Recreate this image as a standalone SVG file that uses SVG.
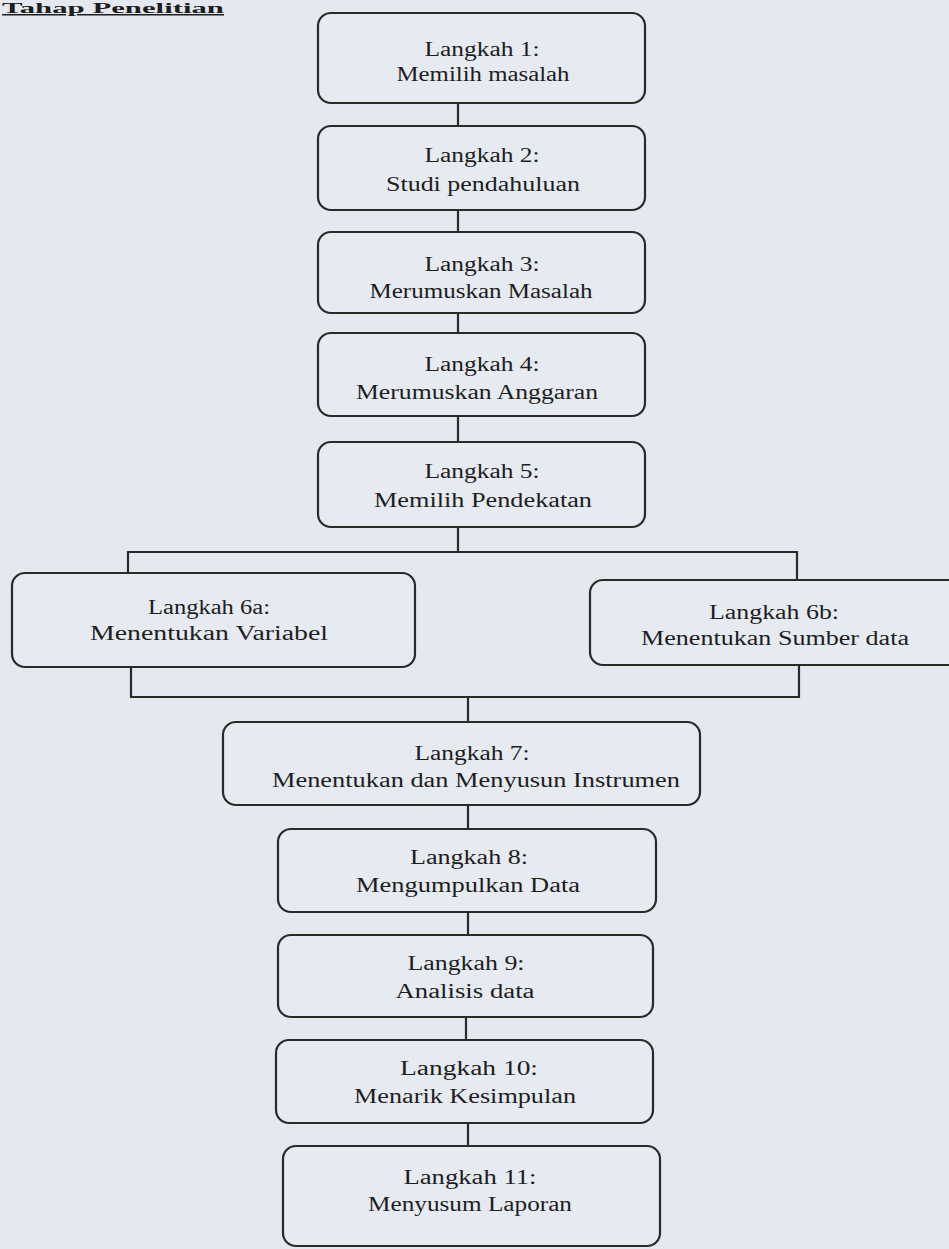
<svg xmlns="http://www.w3.org/2000/svg" width="949" height="1249" viewBox="0 0 949 1249">
<style>
.bg{fill:#e4e8ef}
.box{fill:#e6eaf1;stroke:#2a2a2a;stroke-width:2.2}
.ln{fill:none;stroke:#2a2a2a;stroke-width:2.2}
text{font-family:"Liberation Serif","Times New Roman",serif;font-size:20px;fill:#1e1e1e;text-anchor:middle}
.hd{font-size:15px;font-weight:bold;text-anchor:start;text-decoration:underline}
</style>
<rect class="bg" x="0" y="0" width="949" height="1249"/>
<text class="hd" x="2" y="13" textLength="222" lengthAdjust="spacingAndGlyphs">Tahap Penelitian</text>
<g id="connectors">
<line class="ln" x1="458" y1="103" x2="458" y2="126"/>
<line class="ln" x1="458" y1="210" x2="458" y2="232"/>
<line class="ln" x1="458" y1="313" x2="458" y2="333"/>
<line class="ln" x1="458" y1="416" x2="458" y2="442"/>
<line class="ln" x1="458" y1="527" x2="458" y2="552"/>
<polyline class="ln" points="128,573 128,552 797,552 797,580"/>
<polyline class="ln" points="131,667 131,697 799,697 799,665"/>
<line class="ln" x1="468" y1="697" x2="468" y2="722"/>
<line class="ln" x1="468" y1="805" x2="468" y2="829"/>
<line class="ln" x1="468" y1="912" x2="468" y2="935"/>
<line class="ln" x1="466" y1="1017" x2="466" y2="1040"/>
<line class="ln" x1="468" y1="1123" x2="468" y2="1146"/>
</g>
<g id="n1"><rect class="box" x="318" y="13" width="327" height="90" rx="13"/>
<text x="482" y="56" textLength="115" lengthAdjust="spacingAndGlyphs">Langkah 1:</text>
<text x="483" y="81" textLength="173" lengthAdjust="spacingAndGlyphs">Memilih masalah</text></g>
<g id="n2"><rect class="box" x="318" y="126" width="327" height="84" rx="13"/>
<text x="482" y="162" textLength="115" lengthAdjust="spacingAndGlyphs">Langkah 2:</text>
<text x="483" y="191" textLength="194" lengthAdjust="spacingAndGlyphs">Studi pendahuluan</text></g>
<g id="n3"><rect class="box" x="318" y="232" width="327" height="81" rx="13"/>
<text x="482" y="271" textLength="115" lengthAdjust="spacingAndGlyphs">Langkah 3:</text>
<text x="481" y="298" textLength="223" lengthAdjust="spacingAndGlyphs">Merumuskan Masalah</text></g>
<g id="n4"><rect class="box" x="318" y="333" width="327" height="83" rx="13"/>
<text x="482" y="371" textLength="115" lengthAdjust="spacingAndGlyphs">Langkah 4:</text>
<text x="477" y="399" textLength="242" lengthAdjust="spacingAndGlyphs">Merumuskan Anggaran</text></g>
<g id="n5"><rect class="box" x="318" y="442" width="327" height="85" rx="13"/>
<text x="482" y="478" textLength="115" lengthAdjust="spacingAndGlyphs">Langkah 5:</text>
<text x="483" y="507" textLength="218" lengthAdjust="spacingAndGlyphs">Memilih Pendekatan</text></g>
<g id="n6a"><rect class="box" x="12" y="573" width="403" height="94" rx="13"/>
<text x="209" y="614" textLength="122" lengthAdjust="spacingAndGlyphs">Langkah 6a:</text>
<text x="209" y="640" textLength="238" lengthAdjust="spacingAndGlyphs">Menentukan Variabel</text></g>
<g id="n6b"><rect class="box" x="590" y="580" width="378" height="85" rx="13"/>
<text x="774" y="619" textLength="130" lengthAdjust="spacingAndGlyphs">Langkah 6b:</text>
<text x="775" y="645" textLength="268" lengthAdjust="spacingAndGlyphs">Menentukan Sumber data</text></g>
<g id="n7"><rect class="box" x="223" y="722" width="477" height="83" rx="13"/>
<text x="472" y="760" textLength="115" lengthAdjust="spacingAndGlyphs">Langkah 7:</text>
<text x="476" y="787" textLength="408" lengthAdjust="spacingAndGlyphs">Menentukan dan Menyusun Instrumen</text></g>
<g id="n8"><rect class="box" x="278" y="829" width="378" height="83" rx="13"/>
<text x="469" y="864" textLength="118" lengthAdjust="spacingAndGlyphs">Langkah 8:</text>
<text x="468" y="892" textLength="224" lengthAdjust="spacingAndGlyphs">Mengumpulkan Data</text></g>
<g id="n9"><rect class="box" x="278" y="935" width="375" height="82" rx="13"/>
<text x="466" y="970" textLength="117" lengthAdjust="spacingAndGlyphs">Langkah 9:</text>
<text x="465" y="998" textLength="139" lengthAdjust="spacingAndGlyphs">Analisis data</text></g>
<g id="n10"><rect class="box" x="276" y="1040" width="377" height="83" rx="13"/>
<text x="469" y="1075" textLength="138" lengthAdjust="spacingAndGlyphs">Langkah 10:</text>
<text x="465" y="1103" textLength="222" lengthAdjust="spacingAndGlyphs">Menarik Kesimpulan</text></g>
<g id="n11"><rect class="box" x="283" y="1146" width="377" height="100" rx="13"/>
<text x="470" y="1184" textLength="133" lengthAdjust="spacingAndGlyphs">Langkah 11:</text>
<text x="470" y="1211" textLength="204" lengthAdjust="spacingAndGlyphs">Menyusum Laporan</text></g>
</svg>
